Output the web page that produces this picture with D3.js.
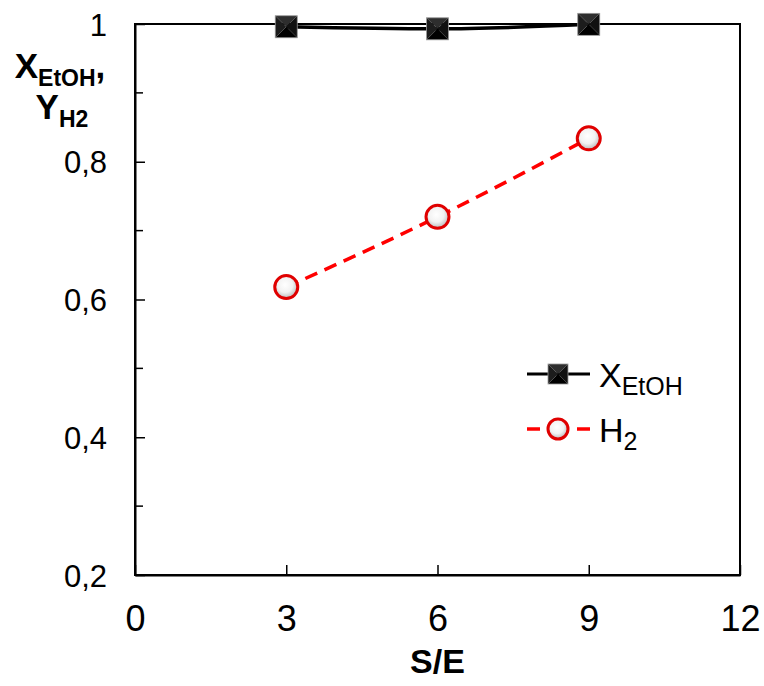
<!DOCTYPE html>
<html>
<head>
<meta charset="utf-8">
<script src="https://cdn.jsdelivr.net/npm/d3@7"></script>
<style>
  html, body { margin: 0; padding: 0; background: #fff; }
  svg text { font-family: "Liberation Sans", Arial, sans-serif; fill: #000; }
</style>
</head>
<body>
<svg id="chart" width="764" height="686"></svg>
<script>
// S/E ratio on the x axis
const seRatio = [3, 6, 9];
// Ethanol conversion and hydrogen yield
const xEtOH = [0.996, 0.993, 0.9995];
const yH2 = [0.618, 0.720, 0.834];
// Axis ticks
const xTicks = [0, 3, 6, 9, 12];
const yMajorTicks = [0.2, 0.4, 0.6, 0.8, 1];
const yMinorTicks = [0.3, 0.5, 0.7, 0.9];

const svg = d3.select("#chart");
const margin = { left: 135, top: 24, right: 24, bottom: 111 };
const W = 764, H = 686;
const x = d3.scaleLinear().domain([0, 12]).range([margin.left, W - margin.right]);
const y = d3.scaleLinear().domain([0.2, 1]).range([H - margin.bottom, margin.top]);

const defs = svg.append("defs");
const grad = defs.append("radialGradient").attr("id", "ballFill")
  .attr("cx", "45%").attr("cy", "40%").attr("r", "60%");
grad.append("stop").attr("offset", "0%").attr("stop-color", "#ffffff");
grad.append("stop").attr("offset", "55%").attr("stop-color", "#f2f2f2");
grad.append("stop").attr("offset", "100%").attr("stop-color", "#b8b8b8");

// Frame
svg.append("rect")
  .attr("x", x(0)).attr("y", y(1))
  .attr("width", x(12) - x(0)).attr("height", y(0.2) - y(1))
  .attr("fill", "none").attr("stroke", "#000").attr("stroke-width", 2);

// Y axis (ticks pointing inward)
const yAxis = d3.axisLeft(y).tickValues(yMajorTicks).tickSizeInner(-10).tickSizeOuter(0)
  .tickPadding(28).tickFormat(d => d3.format(".1f")(d).replace(".", ",").replace(/,0$/, ""));
const gy = svg.append("g").attr("transform", `translate(${x(0)},0)`).call(yAxis);
gy.select(".domain").attr("stroke-width", 2);
gy.selectAll(".tick line").attr("stroke-width", 1.5);
gy.selectAll(".tick text").style("font-size", "31px").attr("dy", "0.36em");

svg.append("g").selectAll("line").data(yMinorTicks).join("line")
  .attr("x1", x(0)).attr("x2", x(0) + 8)
  .attr("y1", d => y(d)).attr("y2", d => y(d))
  .attr("stroke", "#000").attr("stroke-width", 1.5);

// X axis (ticks pointing inward)
const xAxis = d3.axisBottom(x).tickValues(xTicks).tickSizeInner(-10).tickSizeOuter(0)
  .tickPadding(30).tickFormat(d3.format("d"));
const gx = svg.append("g").attr("transform", `translate(0,${y(0.2)})`).call(xAxis);
gx.select(".domain").attr("stroke-width", 2);
gx.selectAll(".tick line").attr("stroke-width", 1.5);
gx.selectAll(".tick text").style("font-size", "36px").attr("dy", "0.71em");

// Axis titles
svg.append("text").attr("x", x(6)).attr("y", 673)
  .attr("text-anchor", "middle").style("font-size", "34px").style("font-weight", "bold")
  .text("S/E");

const yt = svg.append("text").attr("text-anchor", "middle").style("font-weight", "bold");
const l1 = yt.append("tspan").attr("x", 60).attr("y", 78);
l1.append("tspan").style("font-size", "35px").text("X");
l1.append("tspan").style("font-size", "23px").attr("dy", 8).text("EtOH");
l1.append("tspan").style("font-size", "35px").attr("dy", -8).text(",");
const l2 = yt.append("tspan").attr("x", 62).attr("y", 119);
l2.append("tspan").style("font-size", "35px").text("Y");
l2.append("tspan").style("font-size", "23px").attr("dy", 8).text("H2");

// Series lines
const lineGen = d3.line().x(d => x(d[0])).y(d => y(d[1])).curve(d3.curveMonotoneX);
svg.append("path").datum(d3.zip(seRatio, xEtOH))
  .attr("d", lineGen).attr("fill", "none").attr("stroke", "#000").attr("stroke-width", 3.5);
svg.append("path").datum(d3.zip(seRatio, yH2))
  .attr("d", lineGen).attr("fill", "none").attr("stroke", "#ff0000")
  .attr("stroke-width", 3.5).attr("stroke-dasharray", "13,8");

// Markers
function squareMarker(g, cx, cy, s) {
  const h = s / 2;
  const pts = [[cx - h, cy - h], [cx + h, cy - h], [cx + h, cy + h], [cx - h, cy + h]];
  const shades = ["#2e2e2e", "#111", "#000", "#1c1c1c"];
  for (let i = 0; i < 4; i++) {
    const a = pts[i], b = pts[(i + 1) % 4];
    g.append("path").attr("d", `M${a[0]},${a[1]}L${b[0]},${b[1]}L${cx},${cy}Z`).attr("fill", shades[i]);
  }
  g.append("rect").attr("x", cx - h).attr("y", cy - h).attr("width", s).attr("height", s)
    .attr("fill", "none").attr("stroke", "#999").attr("stroke-width", 0.8);
}
function ballMarker(g, cx, cy, r) {
  g.append("circle").attr("cx", cx).attr("cy", cy).attr("r", r)
    .attr("fill", "url(#ballFill)").attr("stroke", "#e00000").attr("stroke-width", 3);
}
const mk = svg.append("g");
seRatio.forEach((s, i) => squareMarker(mk, x(s), y(xEtOH[i]), 22));
seRatio.forEach((s, i) => ballMarker(mk, x(s), y(yH2[i]), 11.5));

// Legend
const lg = svg.append("g");
lg.append("line").attr("x1", 527).attr("x2", 590).attr("y1", 374).attr("y2", 374)
  .attr("stroke", "#000").attr("stroke-width", 3);
squareMarker(lg, 558, 374, 20);
lg.append("line").attr("x1", 527).attr("x2", 590).attr("y1", 429).attr("y2", 429)
  .attr("stroke", "#ff0000").attr("stroke-width", 3.5).attr("stroke-dasharray", "13,37");
ballMarker(lg, 558, 429, 10);
const t1 = lg.append("text").attr("x", 599).attr("y", 387);
t1.append("tspan").style("font-size", "34px").text("X");
t1.append("tspan").style("font-size", "25px").attr("dy", 8).text("EtOH");
const t2 = lg.append("text").attr("x", 599).attr("y", 442);
t2.append("tspan").style("font-size", "34px").text("H");
t2.append("tspan").style("font-size", "25px").attr("dy", 8).text("2");
</script>
</body>
</html>
